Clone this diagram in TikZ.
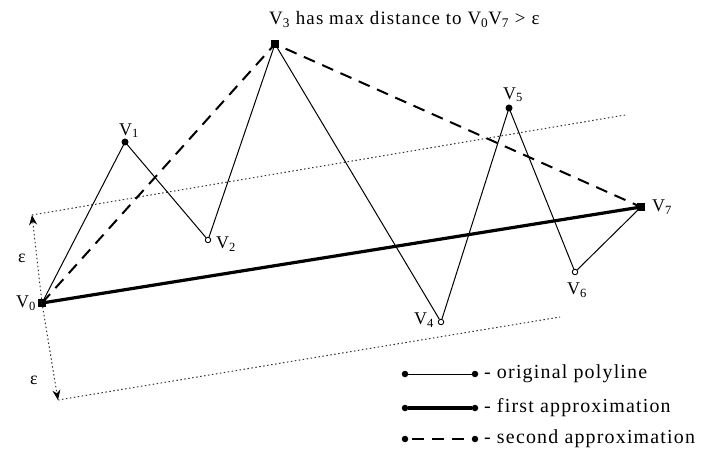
\documentclass[tikz,border=0pt]{standalone}
\usepackage{fontspec}
\setmainfont{Liberation Serif}
\newfontfamily\lblfont[LetterSpace=6]{Liberation Serif}
\usetikzlibrary{arrows.meta}
\begin{document}
\begin{tikzpicture}[x=1bp,y=-1bp,
  sqv/.style={rectangle,fill=black,minimum size=8bp,inner sep=0pt},
  dotv/.style={circle,fill=black,minimum size=7bp,inner sep=0pt},
  openv/.style={circle,draw=black,fill=white,line width=0.9bp,minimum size=5.5bp,inner sep=0pt},
  lbl/.style={font=\lblfont\fontsize{18}{20}\selectfont,inner sep=1bp},
  toplbl/.style={font=\lblfont\fontsize{19}{21}\selectfont,inner sep=1bp},
  leglbl/.style={font=\lblfont\fontsize{20}{22}\selectfont,inner sep=1bp},
  orig/.style={line width=1bp},
  firstap/.style={line width=3.2bp},
  secondap/.style={line width=2bp,dash pattern=on 12bp off 8bp},
  band/.style={line width=1bp,dash pattern=on 1.5bp off 2.5bp,black!80},
  legdot/.style={circle,fill=black,minimum size=6.5bp,inner sep=0pt}]
\useasboundingbox (0,0) rectangle (702,453);
% epsilon band
\coordinate (ut) at (32,215);
\coordinate (ue) at (625,115);
\coordinate (lt) at (58,400);
\coordinate (le) at (560,317);
\draw[band] (ut) -- (ue);
\draw[band] (lt) -- (le);
% vertices
\node[sqv] (v0) at (42,303) {};
\node[dotv] (v1) at (125,142) {};
\node[openv] (v2) at (208,240) {};
\node[sqv] (v3) at (275,44) {};
\node[openv] (v4) at (441,322) {};
\node[dotv] (v5) at (509,108) {};
\node[openv] (v6) at (575,272) {};
\node[sqv] (v7) at (641,207) {};
\draw[band,-{Stealth[length=10bp,width=8bp,color=black]}] (v0.center) -- (ut);
\draw[band,-{Stealth[length=10bp,width=8bp,color=black]}] (v0.center) -- (lt);
% original polyline
\draw[orig] (v0.center) -- (v1.center) -- (v2) -- (v3.center) -- (v4) -- (v5.center) -- (v6) -- (v7.center);
% approximations
\draw[secondap] (v0.center) -- (v3.center) -- (v7.center);
\draw[firstap] (v0.center) -- (v7.center);
% labels
\node[lbl,anchor=east] (t0) at (37,303) {V\textsubscript{0}};
\node[lbl,anchor=south west] (t1) at (118,139) {V\textsubscript{1}};
\node[lbl,anchor=west] (t2) at (215,244) {V\textsubscript{2}};
\node[toplbl,anchor=base west] (t3) at (268,25) {V\textsubscript{3} has max distance to V\textsubscript{0}V\textsubscript{7} {>} ε};
\node[lbl,anchor=east] (t4) at (435,320) {V\textsubscript{4}};
\node[lbl,anchor=south west] (t5) at (502,103) {V\textsubscript{5}};
\node[lbl,anchor=north west] (t6) at (566,282) {V\textsubscript{6}};
\node[lbl,anchor=west] (t7) at (651,207) {V\textsubscript{7}};
\node[lbl] (e1) at (22,258) {ε};
\node[lbl] (e2) at (34,380) {ε};
% legend
\node[legdot] (a1) at (405,374) {};
\node[legdot] (b1) at (475,374) {};
\node[legdot] (a2) at (405,408) {};
\node[legdot] (b2) at (475,408) {};
\node[legdot] (a3) at (405,439) {};
\node[legdot] (b3) at (475,439) {};
\draw[orig] (a1) -- (b1);
\draw[firstap] (a2) -- (b2);
\draw[line width=2bp,dash pattern=on 12bp off 8bp,dash phase=-4bp] (a3) -- (b3);
\node[leglbl,anchor=west] (l1) at (483,374) {- original polyline};
\node[leglbl,anchor=west] (l2) at (483,408) {- first approximation};
\node[leglbl,anchor=west] (l3) at (483,439) {- second approximation};
\end{tikzpicture}
\end{document}
